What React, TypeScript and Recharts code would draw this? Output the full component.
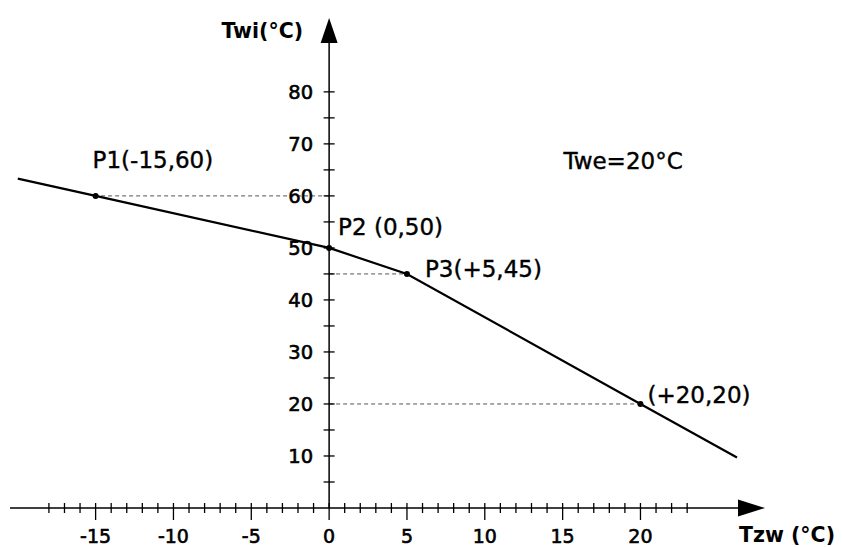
import React from 'react';
import { ComposedChart, Line, XAxis, YAxis, ReferenceLine, ReferenceDot } from 'recharts';

// ---- data ----
const curveX = [-20, -15, 0, 5, 20, 26.2];
const curveY = [63.33, 60, 50, 45, 20, 9.7];

const pointX = [-15, 0, 5, 20];
const pointY = [60, 50, 45, 20];
const pointLabels = ['P1(-15,60)', 'P2 (0,50)', 'P3(+5,45)', '(+20,20)'];

const xTickValues = [-18, -17, -16, -15, -14, -13, -12, -11, -10, -9, -8, -7, -6, -5, -4, -3, -2, -1, 0, 1, 2, 3, 4, 5, 6, 7, 8, 9, 10, 11, 12, 13, 14, 15, 16, 17, 18, 19, 20, 21, 22, 23];
const xTickLabels = [-15, -10, -5, 0, 5, 10, 15, 20];
const yTickValues = [5, 10, 15, 20, 25, 30, 35, 40, 45, 50, 55, 60, 65, 70, 75, 80];
const yTickLabels = [10, 20, 30, 40, 50, 60, 70, 80];

const xDomain: [number, number] = [-20.5, 28];
const yDomain: [number, number] = [0, 94.2];

const noteX = 15.05;
const noteY = 65.2;
const noteText = 'Twe=20°C';
const xTitle = 'Tzw (°C)';
const yTitle = 'Twi(°C)';

const lineData = curveX.map((x, i) => ({ x, y: curveY[i] }));

// ---- styles ----
const FONT = '"DejaVu Sans", sans-serif';
const LABEL_OFFSETS = [
  [-3, -28],
  [9, -13],
  [18, 3],
  [7, -1],
];

const XTick = (props: any) => {
  const { x, y, payload } = props;
  const v = payload.value;
  const major = xTickLabels.includes(v);
  return (
    <g>
      <line x1={x} x2={x} y1={y - 5} y2={y + (major ? 12 : 5)} stroke="#000" strokeWidth={1.3} />
      {major && (
        <text
          x={x}
          y={y + 34.5}
          textAnchor="middle"
          fontFamily={FONT}
          fontSize={19}
          fill="#000"
          stroke="#000"
          strokeWidth={0.6}
        >
          {String(v)}
        </text>
      )}
    </g>
  );
};

const XAxisShape = (p: any) => {
  const xa = Math.min(p.x1, p.x2);
  const xb = Math.max(p.x1, p.x2);
  const y = p.y1;
  return (
    <g>
      <line x1={xa} x2={xb - 27} y1={y} y2={y} stroke="#000" strokeWidth={1.5} />
      <polygon points={`${xb - 27},${y - 8.5} ${xb},${y} ${xb - 27},${y + 8.5}`} fill="#000" />
      <text x={xb - 26} y={y + 33.5} fontFamily={FONT} fontWeight="bold" fontSize={20.5} fill="#000">
        {xTitle}
      </text>
    </g>
  );
};

const YAxisShape = (p: any) => {
  const top = Math.min(p.y1, p.y2);
  const bottom = Math.max(p.y1, p.y2);
  const x = p.x1;
  return (
    <g>
      <line x1={x} x2={x} y1={bottom} y2={top + 25} stroke="#000" strokeWidth={1.5} />
      <polygon points={`${x - 8.5},${top + 25} ${x},${top} ${x + 8.5},${top + 25}`} fill="#000" />
      <text x={x - 26} y={top + 20} textAnchor="end" fontFamily={FONT} fontWeight="bold" fontSize={20.5} fill="#000">
        {yTitle}
      </text>
    </g>
  );
};

export default function App() {
  return (
    <div style={{ position: 'absolute', left: 0, top: 0, background: '#fff' }}>
      <ComposedChart
        width={842}
        height={547}
        data={lineData}
        margin={{ top: 18, left: 10, right: 77, bottom: 0 }}
      >
        <XAxis
          type="number"
          dataKey="x"
          domain={xDomain}
          allowDataOverflow
          ticks={xTickValues}
          interval={0}
          tickLine={false}
          axisLine={false}
          tickSize={0}
          tickMargin={0}
          height={39}
          tick={<XTick />}
        />
        <YAxis type="number" domain={yDomain} allowDataOverflow hide />

        {pointX.map((px, i) =>
          px !== 0 ? (
            <ReferenceLine
              key={'g' + i}
              segment={[
                { x: 0, y: pointY[i] },
                { x: px, y: pointY[i] },
              ]}
              stroke="#555"
              strokeWidth={1}
              strokeDasharray="4 3"
              ifOverflow="visible"
            />
          ) : null
        )}

        <ReferenceLine y={0} ifOverflow="visible" shape={XAxisShape} />
        <ReferenceLine x={0} ifOverflow="visible" shape={YAxisShape} />

        {yTickValues.map((v) => (
          <ReferenceDot
            key={'yt' + v}
            x={0}
            y={v}
            r={0}
            ifOverflow="visible"
            shape={(p: any) => (
              <g>
                <line x1={p.cx - 5.5} x2={p.cx + 5.5} y1={p.cy} y2={p.cy} stroke="#000" strokeWidth={1.3} />
                {yTickLabels.includes(v) && (
                  <text
                    x={p.cx - 16}
                    y={p.cy + 7}
                    textAnchor="end"
                    fontFamily={FONT}
                    fontSize={19.5}
                    fill="#000"
                    stroke="#000"
                    strokeWidth={0.6}
                  >
                    {String(v)}
                  </text>
                )}
              </g>
            )}
          />
        ))}

        <Line
          type="linear"
          dataKey="y"
          stroke="#000"
          strokeWidth={2.2}
          dot={false}
          activeDot={false}
          isAnimationActive={false}
        />

        {pointX.map((px, i) => (
          <ReferenceDot
            key={'p' + i}
            x={px}
            y={pointY[i]}
            r={3}
            ifOverflow="visible"
            shape={(p: any) => (
              <g>
                <circle cx={p.cx} cy={p.cy} r={3} fill="#000" />
                <text
                  x={p.cx + LABEL_OFFSETS[i][0]}
                  y={p.cy + LABEL_OFFSETS[i][1]}
                  fontFamily={FONT}
                  fontSize={23}
                  fill="#000"
                  stroke="#000"
                  strokeWidth={0.4}
                >
                  {pointLabels[i]}
                </text>
              </g>
            )}
          />
        ))}

        <ReferenceDot
          x={noteX}
          y={noteY}
          r={0}
          ifOverflow="visible"
          shape={(p: any) => (
            <text x={p.cx} y={p.cy} fontFamily={FONT} fontSize={23} fill="#000" stroke="#000" strokeWidth={0.4}>
              {noteText}
            </text>
          )}
        />
      </ComposedChart>
    </div>
  );
}
